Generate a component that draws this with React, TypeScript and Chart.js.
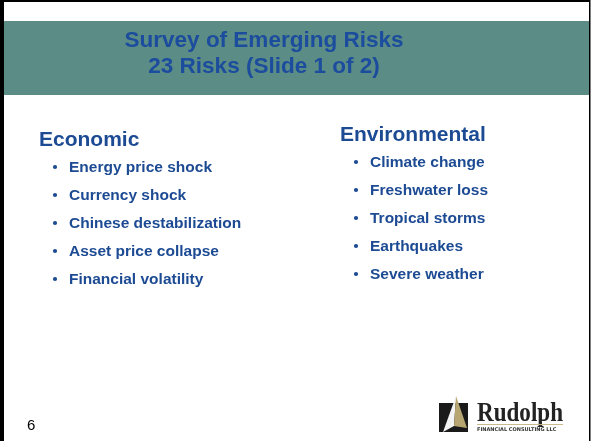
import React, { useEffect, useRef } from "react";
import { Chart, registerables } from "chart.js";

Chart.register(...registerables);

const titleLines = ["Survey of Emerging Risks", "23 Risks (Slide 1 of 2)"];
const groupNames = ["Economic", "Environmental"];
const economicRisks = [
  "Energy price shock",
  "Currency shock",
  "Chinese destabilization",
  "Asset price collapse",
  "Financial volatility",
];
const environmentalRisks = [
  "Climate change",
  "Freshwater loss",
  "Tropical storms",
  "Earthquakes",
  "Severe weather",
];
const pageNumber = "6";
const logoName = "Rudolph";
const logoTagline = "FINANCIAL CONSULTING LLC";

const NAVY = "#1c4a93";
const TITLE_BLUE = "#1b4c9e";
const TEAL = "#5b8c85";

const slidePlugin = {
  id: "slide",
  beforeDraw(chart: any) {
    const ctx = chart.ctx as CanvasRenderingContext2D;
    const W = chart.width;
    const H = chart.height;
    ctx.save();
    ctx.fillStyle = "#ffffff";
    ctx.fillRect(0, 0, W, H);
    // title band
    ctx.fillStyle = TEAL;
    ctx.fillRect(4, 21, 585, 74);
    // frame
    ctx.fillStyle = "#000000";
    ctx.fillRect(0, 0, 4, H);
    ctx.fillRect(0, 0, 590, 2);
    ctx.fillRect(589, 0, 1.5, H);
    // title
    ctx.fillStyle = TITLE_BLUE;
    ctx.font = "bold 22.5px 'Liberation Sans', Arial, sans-serif";
    ctx.textAlign = "center";
    ctx.textBaseline = "alphabetic";
    ctx.fillText(titleLines[0], 264, 47);
    ctx.fillText(titleLines[1], 264, 73);
    // page number
    ctx.fillStyle = "#000000";
    ctx.font = "15px 'Liberation Sans', Arial, sans-serif";
    ctx.textAlign = "left";
    ctx.fillText(pageNumber, 27, 430);
    // logo mark
    ctx.fillStyle = "#1a1a1a";
    ctx.fillRect(439, 403, 29, 29);
    ctx.fillStyle = "#f4f4f4";
    ctx.beginPath();
    ctx.moveTo(456, 396);
    ctx.lineTo(443, 432);
    ctx.lineTo(454, 426);
    ctx.closePath();
    ctx.fill();
    ctx.fillStyle = "#b8a672";
    ctx.beginPath();
    ctx.moveTo(456, 396);
    ctx.lineTo(454, 426);
    ctx.lineTo(467, 428);
    ctx.closePath();
    ctx.fill();
    // logo text
    ctx.fillStyle = "#222222";
    ctx.font = "bold 27px 'Liberation Serif', 'Times New Roman', serif";
    ctx.fillText(logoName, 477, 421, 86);
    ctx.fillStyle = "#c9b98a";
    ctx.fillRect(477, 424, 86, 1);
    ctx.fillStyle = "#333333";
    ctx.font = "bold 5px 'DejaVu Sans', sans-serif";
    ctx.fillText(logoTagline, 477, 431, 85);
    ctx.restore();
  },
  afterDatasetsDraw(chart: any) {
    const ctx = chart.ctx as CanvasRenderingContext2D;
    ctx.save();
    ctx.fillStyle = NAVY;
    ctx.textAlign = "left";
    ctx.textBaseline = "alphabetic";
    chart.data.datasets.forEach((ds: any, di: number) => {
      const meta = chart.getDatasetMeta(di);
      const pts = meta.data;
      if (!pts.length) return;
      ctx.font = "bold 21px 'Liberation Sans', Arial, sans-serif";
      ctx.fillText(groupNames[di], pts[0].x - 16, pts[0].y - 21);
      ctx.font = "bold 15.5px 'Liberation Sans', Arial, sans-serif";
      pts.forEach((p: any, i: number) => {
        ctx.fillText(ds.items[i], p.x + 14, p.y + 5);
      });
    });
    ctx.restore();
  },
};

export default function App() {
  const ref = useRef<HTMLCanvasElement | null>(null);
  useEffect(() => {
    if (!ref.current) return;
    const chart = new Chart(ref.current, {
      type: "scatter",
      data: {
        datasets: [
          {
            label: groupNames[0],
            items: economicRisks,
            data: economicRisks.map((_, i) => ({ x: 0, y: i })),
            yAxisID: "yL",
            pointRadius: 2.1,
            pointBackgroundColor: NAVY,
            pointBorderWidth: 0,
          } as any,
          {
            label: groupNames[1],
            items: environmentalRisks,
            data: environmentalRisks.map((_, i) => ({ x: 1, y: i })),
            yAxisID: "yR",
            pointRadius: 2.1,
            pointBackgroundColor: NAVY,
            pointBorderWidth: 0,
          } as any,
        ],
      },
      options: {
        responsive: false,
        maintainAspectRatio: false,
        animation: false,
        events: [],
        layout: { padding: 0, autoPadding: false },
        plugins: {
          legend: { display: false },
          tooltip: { enabled: false },
        },
        scales: {
          x: { type: "linear", display: false, min: -0.1827, max: 1.7841 },
          yL: { type: "linear", display: false, reverse: true, min: -5.964, max: 9.786 },
          yR: { type: "linear", display: false, reverse: true, min: -5.786, max: 9.964 },
        },
      } as any,
      plugins: [slidePlugin],
    });
    return () => chart.destroy();
  }, []);
  return (
    <div style={{ position: "absolute", left: 0, top: 0, width: 592, height: 441 }}>
      <canvas ref={ref} width={592} height={441} style={{ display: "block" }} />
    </div>
  );
}
